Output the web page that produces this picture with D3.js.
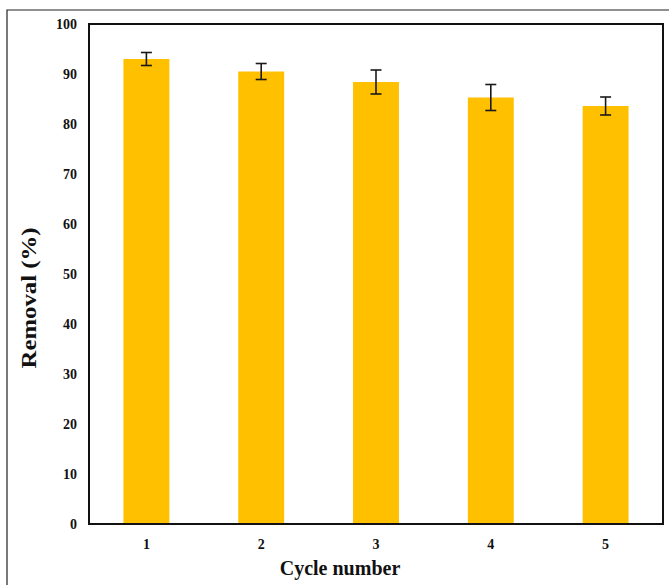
<!DOCTYPE html>
<html>
<head>
<meta charset="utf-8">
<script src="https://cdn.jsdelivr.net/npm/d3@7"></script>
<style>
  html, body { margin: 0; padding: 0; background: #fff; }
  svg { display: block; }
  text { font-family: "Liberation Serif", "Times New Roman", serif; font-weight: bold; fill: #111; }
</style>
</head>
<body>
<svg id="chart" width="669" height="585"></svg>
<script>
// Removal efficiency over successive reuse cycles
const cycles = ["1", "2", "3", "4", "5"];
const removal = [93.0, 90.5, 88.4, 85.3, 83.6];
const errors = [1.3, 1.6, 2.4, 2.6, 1.8];
const yTicks = [0, 10, 20, 30, 40, 50, 60, 70, 80, 90, 100];

const svg = d3.select("#chart");
const plot = { left: 89, right: 663, top: 24, bottom: 524 };

// Outer frame (open at right and bottom)
svg.append("path")
  .attr("d", "M7,585 V10 H669")
  .attr("fill", "none")
  .attr("stroke", "#222")
  .attr("stroke-width", 1.2);

const x = d3.scaleBand()
  .domain(cycles)
  .range([plot.left, plot.right])
  .paddingInner(0.6)
  .paddingOuter(0.3);

const y = d3.scaleLinear()
  .domain([0, 100])
  .range([plot.bottom, plot.top]);

// Bars
svg.append("g")
  .selectAll("rect")
  .data(cycles)
  .join("rect")
  .attr("x", d => x(d))
  .attr("width", x.bandwidth())
  .attr("y", (d, i) => y(removal[i]))
  .attr("height", (d, i) => y(0) - y(removal[i]))
  .attr("fill", "#FFC000");

// Error bars
const err = svg.append("g")
  .attr("stroke", "#1a1a1a")
  .attr("stroke-width", 1.6)
  .selectAll("g")
  .data(cycles)
  .join("g")
  .attr("transform", d => `translate(${x(d) + x.bandwidth() / 2},0)`);
err.append("line")
  .attr("y1", (d, i) => y(removal[i] + errors[i]))
  .attr("y2", (d, i) => y(removal[i] - errors[i]));
err.append("line")
  .attr("x1", -5.5).attr("x2", 5.5)
  .attr("y1", (d, i) => y(removal[i] + errors[i]))
  .attr("y2", (d, i) => y(removal[i] + errors[i]));
err.append("line")
  .attr("x1", -5.5).attr("x2", 5.5)
  .attr("y1", (d, i) => y(removal[i] - errors[i]))
  .attr("y2", (d, i) => y(removal[i] - errors[i]));

// Plot box
svg.append("rect")
  .attr("x", plot.left)
  .attr("y", plot.top)
  .attr("width", plot.right - plot.left)
  .attr("height", plot.bottom - plot.top)
  .attr("fill", "none")
  .attr("stroke", "#111")
  .attr("stroke-width", 2);

// Y axis labels
const yAxis = svg.append("g")
  .attr("transform", `translate(${plot.left},0)`)
  .call(d3.axisLeft(y).tickValues(yTicks).tickSize(0).tickPadding(12));
yAxis.select(".domain").remove();
yAxis.selectAll("text")
  .attr("font-size", 14)
  .attr("font-family", "Liberation Serif, Times New Roman, serif")
  .attr("font-weight", "bold")
  .attr("fill", "#111");

// X axis labels
const xAxis = svg.append("g")
  .attr("transform", `translate(0,${plot.bottom})`)
  .call(d3.axisBottom(x).tickSize(0).tickPadding(15));
xAxis.select(".domain").remove();
xAxis.selectAll("text")
  .attr("font-size", 14)
  .attr("font-family", "Liberation Serif, Times New Roman, serif")
  .attr("font-weight", "bold")
  .attr("fill", "#111");

// Axis titles
svg.append("text")
  .attr("x", 340)
  .attr("y", 575)
  .attr("text-anchor", "middle")
  .attr("font-size", 20)
  .text("Cycle number");

// Y title: slightly stretched along its length
const yTitle = svg.append("text")
  .attr("text-anchor", "middle")
  .attr("font-size", 20)
  .text("Removal (%)");
const natural = yTitle.node().getComputedTextLength();
const stretch = 141 / natural;
yTitle.attr("transform", `translate(36,298) rotate(-90) scale(${stretch},1)`);
</script>
</body>
</html>
